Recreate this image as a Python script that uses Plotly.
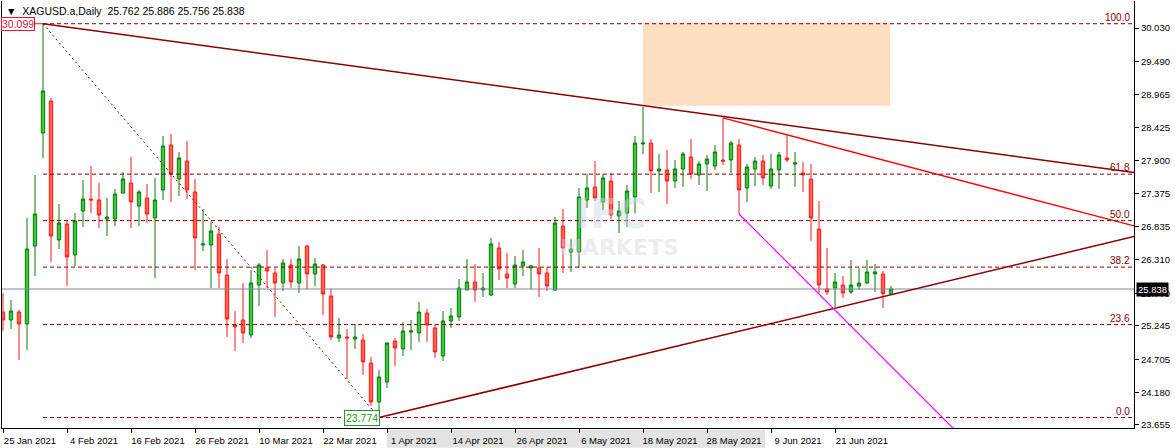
import plotly.graph_objects as go

# ---------------- data ----------------
tick_idx = [0, 8, 16, 24, 32, 40, 48, 56, 64, 72, 80, 88, 96, 104]
tick_labels = ["25 Jan 2021", "4 Feb 2021", "16 Feb 2021", "26 Feb 2021", "10 Mar 2021",
               "22 Mar 2021", "1 Apr 2021", "14 Apr 2021", "26 Apr 2021", "6 May 2021",
               "18 May 2021", "28 May 2021", "9 Jun 2021", "21 Jun 2021"]

open_ = [25.469, 25.341, 25.469, 25.277, 26.529, 28.344, 28.858, 26.626, 26.883, 26.385,
         27.091, 27.284, 27.268, 26.963, 26.963, 27.380, 27.541, 27.172, 27.300, 26.979,
         27.429, 28.151, 27.605, 27.894, 27.397, 26.545, 26.545, 26.722, 26.063, 25.261,
         25.341, 25.100, 25.903, 26.176, 26.096, 25.935, 26.224, 25.935, 26.529, 26.080,
         26.224, 25.726, 25.052, 25.068, 25.036, 25.020, 24.650, 24.024, 24.345, 25.004,
         24.875, 25.148, 25.132, 25.453, 25.213, 24.763, 25.325, 25.389, 25.823, 25.951,
         25.823, 25.742, 26.497, 26.080, 25.919, 26.208, 26.176, 26.176, 26.096, 25.823,
         26.850, 26.433, 26.433, 27.268, 27.477, 27.236, 27.573, 27.011, 27.059, 27.316,
         28.167, 28.183, 27.734, 27.750, 27.573, 27.766, 27.959, 27.670, 27.846, 27.814,
         27.910, 27.910, 28.151, 27.461, 27.766, 27.894, 27.493, 27.750, 27.943, 27.846,
         27.702, 27.605, 26.802, 25.839, 25.855, 25.903, 25.791, 25.887, 25.935, 26.080,
         26.080, 25.762]
high = [25.774, 25.662, 25.501, 26.979, 27.670, 30.099, 28.906, 27.204, 26.947, 27.059,
        27.589, 27.814, 27.541, 27.300, 27.445, 27.718, 27.959, 27.429, 27.525, 27.621,
        28.296, 28.328, 28.039, 28.216, 27.605, 27.124, 26.915, 26.834, 26.321, 25.485,
        25.935, 26.144, 26.256, 26.465, 26.176, 26.321, 26.321, 26.529, 26.545, 26.337,
        26.240, 25.839, 25.373, 25.196, 25.277, 25.116, 24.747, 24.538, 24.988, 25.052,
        25.309, 25.341, 25.630, 25.518, 25.277, 25.485, 25.534, 25.999, 26.321, 26.240,
        26.096, 26.658, 26.593, 26.417, 26.369, 26.465, 26.224, 26.497, 26.192, 26.995,
        27.124, 26.642, 27.461, 27.686, 27.894, 27.686, 27.702, 27.252, 27.509, 28.296,
        28.762, 28.248, 28.007, 28.071, 27.910, 28.039, 28.248, 27.894, 27.991, 28.151,
        28.585, 28.216, 28.248, 27.846, 27.959, 27.991, 28.007, 28.039, 28.310, 28.039,
        27.878, 27.846, 27.252, 26.497, 26.096, 26.047, 26.304, 26.176, 26.304, 26.240,
        26.128, 25.886]
low = [25.164, 25.196, 24.698, 24.859, 26.047, 27.943, 26.272, 26.481, 25.887, 26.208,
       26.834, 27.059, 26.818, 26.690, 26.850, 27.364, 26.818, 26.850, 26.899, 26.015,
       27.268, 27.236, 27.332, 27.284, 26.144, 26.449, 25.855, 25.855, 25.068, 24.843,
       24.971, 25.052, 25.566, 25.855, 25.389, 25.807, 25.855, 25.774, 25.839, 25.887,
       25.421, 25.020, 24.988, 24.393, 24.875, 24.458, 23.960, 23.774, 24.249, 24.602,
       24.763, 24.859, 24.988, 24.988, 24.731, 24.682, 25.213, 25.325, 25.823, 25.630,
       25.710, 25.726, 25.983, 25.855, 25.855, 26.047, 25.839, 25.710, 25.807, 25.807,
       26.096, 26.112, 26.176, 27.140, 27.252, 27.107, 26.963, 26.738, 26.834, 27.050,
       28.007, 27.380, 27.397, 27.204, 27.461, 27.477, 27.605, 27.509, 27.413, 27.750,
       27.830, 27.702, 27.043, 27.236, 27.493, 27.509, 27.445, 27.445, 27.878, 27.477,
       27.397, 26.610, 25.774, 25.742, 25.550, 25.694, 25.758, 25.823, 25.919, 25.791,
       25.534, 25.756]
close = [25.341, 25.485, 25.277, 26.481, 27.043, 29.019, 26.690, 26.899, 26.353, 26.931,
         27.284, 27.268, 27.027, 26.995, 27.364, 27.605, 27.236, 27.397, 27.043, 27.268,
         28.135, 27.686, 27.943, 27.429, 26.658, 26.561, 26.770, 26.096, 25.357, 25.229,
         25.132, 25.935, 26.224, 26.128, 25.935, 26.256, 25.951, 26.321, 26.080, 26.240,
         25.758, 25.068, 25.100, 25.052, 25.068, 24.667, 24.024, 24.425, 24.971, 24.891,
         25.164, 25.164, 25.469, 25.261, 24.827, 25.325, 25.405, 25.855, 25.951, 25.823,
         25.855, 26.561, 26.160, 26.015, 26.224, 26.272, 26.208, 26.080, 25.887, 26.899,
         26.497, 26.481, 27.316, 27.461, 27.300, 27.621, 27.027, 27.091, 27.413, 28.183,
         28.183, 27.734, 27.766, 27.573, 27.766, 28.007, 27.686, 27.846, 27.926, 28.039,
         27.894, 28.183, 27.429, 27.798, 27.894, 27.621, 27.766, 27.991, 27.910, 27.862,
         27.670, 26.979, 25.903, 25.791, 25.951, 25.774, 25.903, 25.935, 26.112, 26.112,
         25.762, 25.838]

price_ticks = [30.030, 29.490, 28.965, 28.425, 27.900, 27.375, 26.835, 26.310, 25.770,
               25.245, 24.705, 24.180, 23.655]
fib_levels = [0.0, 23.6, 38.2, 50.0, 61.8, 100.0]

# drawn objects (bar index, price)
fib_anchor_x = [5, 47]
trend_main_x, trend_main_y = [5, 80], [30.099, 28.785]
trend_red_x, trend_red_y = [90, 98], [28.585, 28.315]
trend_up_x, trend_up_y = [47, 104], [23.774, 25.530]
trend_mag_x, trend_mag_y = [92, 104], [27.043, 25.500]
rect_x, rect_y = [80, 110.9], [28.78, 30.12]

# ---------------- chart ----------------
X_MIN, X_MAX = -0.125, 141.375
Y_MIN, Y_MAX = 23.606, 30.464
FONT = "Liberation Sans"
DARKRED = "#8B0000"

n = len(close)
x = list(range(n))
lo, hi = min(low), max(high)
i_hi, i_lo = high.index(hi), low.index(lo)

fig = go.Figure()

fig.add_shape(type="rect", xref="x", yref="y", x0=rect_x[0], x1=rect_x[1],
              y0=rect_y[0], y1=rect_y[1], fillcolor="#FFDFC2", line_width=0, layer="below")

# faint watermark logo
fig.add_annotation(x=76, y=27.05, text="<b>IFC</b>", showarrow=False, xanchor="center",
                   font=dict(family="DejaVu Sans", size=40, color="rgba(205,214,224,0.45)"))
fig.add_annotation(x=77, y=26.50, text="<b>MARKETS</b>", showarrow=False, xanchor="center",
                   font=dict(family="DejaVu Sans", size=22, color="rgba(205,214,224,0.45)"))

# faint band behind the date labels
fig.add_shape(type="rect", xref="paper", yref="paper", x0=0.340, x1=0.674, y0=-0.046, y1=-0.004,
              fillcolor="rgba(175,175,175,0.35)", line_width=0, layer="below")

fig.add_trace(go.Candlestick(
    x=x, open=open_, high=high, low=low, close=close,
    increasing=dict(line=dict(color="#0A7A0A", width=1), fillcolor="#3CC83C"),
    decreasing=dict(line=dict(color="#FF1A1A", width=1), fillcolor="#FF5E48"),
    whiskerwidth=0, hoverinfo="skip", showlegend=False))

# current price line
fig.add_trace(go.Scatter(x=[X_MIN, X_MAX], y=[close[-1]] * 2, mode="lines",
                         line=dict(color="#7B8A9A", width=1), hoverinfo="skip", showlegend=False))

# fibonacci levels
for lv in fib_levels:
    p = lo + (hi - lo) * lv / 100.0
    fig.add_trace(go.Scatter(x=[fib_anchor_x[0], X_MAX], y=[p, p], mode="lines",
                             line=dict(color=DARKRED, width=1, dash="4px,3px"),
                             hoverinfo="skip", showlegend=False))
    fig.add_annotation(xref="paper", x=1, xanchor="right", xshift=-2, y=p, yanchor="bottom",
                       yshift=-1, text=f"{lv:.1f}", showarrow=False,
                       font=dict(family=FONT, size=10, color=DARKRED))

# fib baseline (dotted)
fig.add_trace(go.Scatter(x=[i_hi, i_lo], y=[hi, lo], mode="lines",
                         line=dict(color=DARKRED, width=1, dash="2px,3px"),
                         hoverinfo="skip", showlegend=False))


def ray(xs, ys, color, width):
    slope = (ys[1] - ys[0]) / (xs[1] - xs[0])
    fig.add_trace(go.Scatter(x=[xs[0], X_MAX], y=[ys[0], ys[0] + slope * (X_MAX - xs[0])],
                             mode="lines", line=dict(color=color, width=width),
                             hoverinfo="skip", showlegend=False))


ray(trend_main_x, trend_main_y, DARKRED, 1.5)
ray(trend_red_x, trend_red_y, "#FF0000", 1.3)
ray(trend_up_x, trend_up_y, DARKRED, 1.5)
ray(trend_mag_x, trend_mag_y, "#FF00FF", 1.2)

# short link from the high label to the high
fig.add_trace(go.Scatter(x=[i_hi - 1.1, i_hi], y=[hi, hi], mode="lines",
                         line=dict(color="#DC143C", width=1), hoverinfo="skip", showlegend=False))

# price labels
fig.add_annotation(x=i_hi, y=hi, xanchor="right", xshift=-8, yanchor="middle",
                   text=f"{hi:.3f}", showarrow=False, bgcolor="white", bordercolor="#DC143C",
                   borderwidth=1, borderpad=0, font=dict(family=FONT, size=10.5, color="#DC143C"))
fig.add_annotation(x=i_lo, y=lo, xanchor="right", xshift=1, yanchor="middle",
                   text=f"{lo:.3f}", showarrow=False, bgcolor="white", bordercolor="#1E9A1E",
                   borderwidth=1, borderpad=1, font=dict(family=FONT, size=10.5, color="#1E9A1E"))
fig.add_annotation(xref="paper", x=1, xanchor="left", xshift=2, y=close[-1], yanchor="middle",
                   text=f"{close[-1]:.3f}", showarrow=False, bgcolor="black", borderpad=1,
                   font=dict(family=FONT, size=9.5, color="white"))

# header
fig.add_annotation(xref="paper", yref="paper", x=0, y=1, xanchor="left", yanchor="top",
                   xshift=2, yshift=-2, showarrow=False,
                   text=f"▼  XAGUSD.a,Daily  {open_[-1]:.3f} {high[-1]:.3f} {low[-1]:.3f} {close[-1]:.3f}",
                   font=dict(family=FONT, size=10.5, color="black"))

fig.update_layout(
    width=1175, height=448,
    margin=dict(l=2, r=41, t=1, b=20),
    paper_bgcolor="white", plot_bgcolor="white",
    showlegend=False,
    xaxis=dict(range=[X_MIN, X_MAX], tickmode="array", tickvals=tick_idx, ticktext=tick_labels,
               ticks="outside", ticklen=4, tickcolor="black", showline=True, linecolor="black",
               linewidth=1, showgrid=False, zeroline=False, rangeslider=dict(visible=False),
               ticklabelshift=27, tickfont=dict(family=FONT, size=9.5, color="black")),
    yaxis=dict(range=[Y_MIN, Y_MAX], side="right", tickmode="array", tickvals=price_ticks,
               ticktext=[f"{v:.3f}" for v in price_ticks], ticks="outside", ticklen=4,
               tickcolor="black", showline=True, mirror=True, linecolor="black", linewidth=1,
               showgrid=False, zeroline=False, tickfont=dict(family=FONT, size=9.5, color="black")),
    boxgap=0.4,
)

fig.write_html("out.html", config={"displayModeBar": False},
               post_script="document.body.style.margin='0';")
